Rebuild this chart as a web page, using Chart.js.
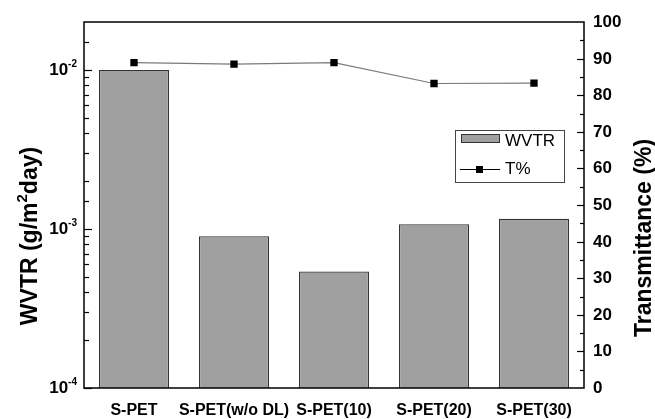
<!DOCTYPE html>
<html>
<head>
<meta charset="utf-8">
<script src="https://cdn.jsdelivr.net/npm/chart.js@4/dist/chart.umd.min.js"></script>
<style>
  html, body { margin: 0; padding: 0; background: #fff; }
  #wrap { width: 655px; height: 419px; }
</style>
</head>
<body>
<div id="wrap"><canvas id="c" width="655" height="419"></canvas></div>
<script>
// Samples along the x axis
const samples = ['S-PET', 'S-PET(w/o DL)', 'S-PET(10)', 'S-PET(20)', 'S-PET(30)'];
// Water vapour transmission rate, g/m²·day (left, log axis)
const wvtr = [1.0e-2, 9.0e-4, 5.4e-4, 1.07e-3, 1.16e-3];
// Optical transmittance, % (right axis)
const transmittance = [88.9, 88.5, 88.9, 83.2, 83.3];
// Axis ranges
const wvtrRange = [1e-4, 2e-2];
const transRange = [0, 100];
const transStep = 5;
const transLabelStep = 10;

const FONT = '"Liberation Sans", Arial, Helvetica, sans-serif';

// Draws the boxed frame, inward tick marks, superscript log labels,
// axis titles and the inset legend.
const originStyle = {
  id: 'originStyle',
  afterDatasetsDraw(chart) {
    const { ctx, chartArea: a, scales } = chart;
    const yL = scales.y, yR = scales.yR;
    ctx.save();

    // frame
    ctx.strokeStyle = '#000';
    ctx.lineWidth = 1.5;
    ctx.strokeRect(a.left, a.top, a.right - a.left, a.bottom - a.top);

    // left log axis
    ctx.lineWidth = 1.2;
    ctx.fillStyle = '#000';
    yL.ticks.forEach(t => {
      const v = t.value;
      const e = Math.floor(Math.log10(v) + 1e-9);
      const m = v / Math.pow(10, e);
      const major = Math.abs(m - 1) < 1e-6;
      const p = Math.round(yL.getPixelForValue(v)) + 0.5;
      if (p <= a.top + 1) return;
      ctx.beginPath();
      ctx.moveTo(a.left, p);
      ctx.lineTo(a.left + (major ? 8 : 5), p);
      ctx.stroke();
      if (major) {
        const sup = String(e);
        ctx.font = 'bold 10px ' + FONT;
        const sw = ctx.measureText(sup).width;
        ctx.font = 'bold 17px ' + FONT;
        const bw = ctx.measureText('10').width;
        const right = a.left - 7;
        ctx.textBaseline = 'middle';
        ctx.textAlign = 'left';
        ctx.fillText('10', right - sw - bw, p);
        ctx.font = 'bold 10px ' + FONT;
        ctx.textBaseline = 'alphabetic';
        ctx.fillText(sup, right - sw, p - 4);
      }
    });

    // right linear axis
    yR.ticks.forEach(t => {
      const v = t.value;
      const major = v % transLabelStep === 0;
      const p = Math.round(yR.getPixelForValue(v)) + 0.5;
      if (v !== transRange[0] && v !== transRange[1]) {
        ctx.beginPath();
        ctx.moveTo(a.right, p);
        ctx.lineTo(a.right - (major ? 7 : 4), p);
        ctx.stroke();
      }
      if (major) {
        ctx.font = 'bold 17px ' + FONT;
        ctx.textAlign = 'left';
        ctx.textBaseline = 'middle';
        ctx.fillText(String(v), a.right + 9, p);
      }
    });

    // left title with superscript
    const titleFont = 'bold 23px ' + FONT;
    const supFont = 'bold 15px ' + FONT;
    const partA = 'WVTR (g/m', partSup = '2', partB = 'day)';
    ctx.font = titleFont;
    const wa = ctx.measureText(partA).width, wb = ctx.measureText(partB).width;
    ctx.font = supFont;
    const ws = ctx.measureText(partSup).width;
    const total = wa + ws + wb;
    ctx.save();
    ctx.translate(37, 236);
    ctx.rotate(-Math.PI / 2);
    ctx.textAlign = 'left';
    ctx.textBaseline = 'alphabetic';
    ctx.font = titleFont;
    ctx.fillText(partA, -total / 2, 0);
    ctx.font = supFont;
    ctx.fillText(partSup, -total / 2 + wa, -10);
    ctx.font = titleFont;
    ctx.fillText(partB, -total / 2 + wa + ws, 0);
    ctx.restore();

    // right title
    ctx.save();
    ctx.translate(651, 238);
    ctx.rotate(-Math.PI / 2);
    ctx.font = titleFont;
    ctx.textAlign = 'center';
    ctx.textBaseline = 'alphabetic';
    ctx.fillText('Transmittance (%)', 0, 0);
    ctx.restore();

    // inset legend
    const bars = chart.data.datasets.find(d => d.type === 'bar');
    const line = chart.data.datasets.find(d => d.type === 'line');
    ctx.lineWidth = 1;
    ctx.strokeStyle = '#444';
    ctx.strokeRect(455.5, 130.5, 109, 52);
    ctx.fillStyle = bars.backgroundColor;
    ctx.fillRect(461, 134, 39, 9);
    ctx.strokeStyle = bars.borderColor;
    ctx.strokeRect(461.5, 134.5, 38, 8);
    ctx.strokeStyle = '#000';
    ctx.beginPath();
    ctx.moveTo(460, 169.5);
    ctx.lineTo(500, 169.5);
    ctx.stroke();
    ctx.fillStyle = line.pointBackgroundColor;
    ctx.fillRect(476, 166, 7, 7);
    ctx.fillStyle = '#000';
    ctx.font = '17px ' + FONT;
    ctx.textAlign = 'left';
    ctx.textBaseline = 'middle';
    ctx.fillText(bars.label, 505, 141);
    ctx.fillText(line.label, 505, 169);

    ctx.restore();
  }
};

new Chart(document.getElementById('c'), {
  data: {
    labels: samples,
    datasets: [
      {
        type: 'line',
        label: 'T%',
        data: transmittance,
        yAxisID: 'yR',
        order: 0,
        borderColor: '#7a7a7a',
        borderWidth: 1.2,
        pointStyle: 'rect',
        pointRadius: 5.2,
        pointBackgroundColor: '#000',
        pointBorderColor: '#000',
        pointBorderWidth: 0,
        tension: 0
      },
      {
        type: 'bar',
        label: 'WVTR',
        data: wvtr,
        yAxisID: 'y',
        order: 1,
        backgroundColor: '#a0a0a0',
        borderColor: '#333333',
        borderWidth: 1.2,
        barPercentage: 0.7,
        categoryPercentage: 1.0
      }
    ]
  },
  options: {
    responsive: false,
    devicePixelRatio: 1,
    animation: false,
    layout: { padding: { top: 22, left: 0, right: 0, bottom: 0 } },
    plugins: { legend: { display: false }, tooltip: { enabled: false } },
    scales: {
      x: {
        type: 'category',
        offset: true,
        grid: { display: false, drawTicks: false },
        border: { display: false },
        ticks: {
          color: '#000',
          font: { family: FONT, size: 16, weight: 'bold' },
          padding: 13,
          maxRotation: 0,
          autoSkip: false
        },
        afterFit: s => { s.height = 31; }
      },
      y: {
        type: 'logarithmic',
        position: 'left',
        min: wvtrRange[0],
        max: wvtrRange[1],
        grid: { display: false, drawTicks: false },
        border: { display: false },
        ticks: { display: false },
        afterFit: s => { s.width = 84; }
      },
      yR: {
        type: 'linear',
        position: 'right',
        min: transRange[0],
        max: transRange[1],
        grid: { display: false, drawTicks: false },
        border: { display: false },
        ticks: { display: false, stepSize: transStep },
        afterFit: s => { s.width = 71; }
      }
    }
  },
  plugins: [originStyle]
});
</script>
</body>
</html>
